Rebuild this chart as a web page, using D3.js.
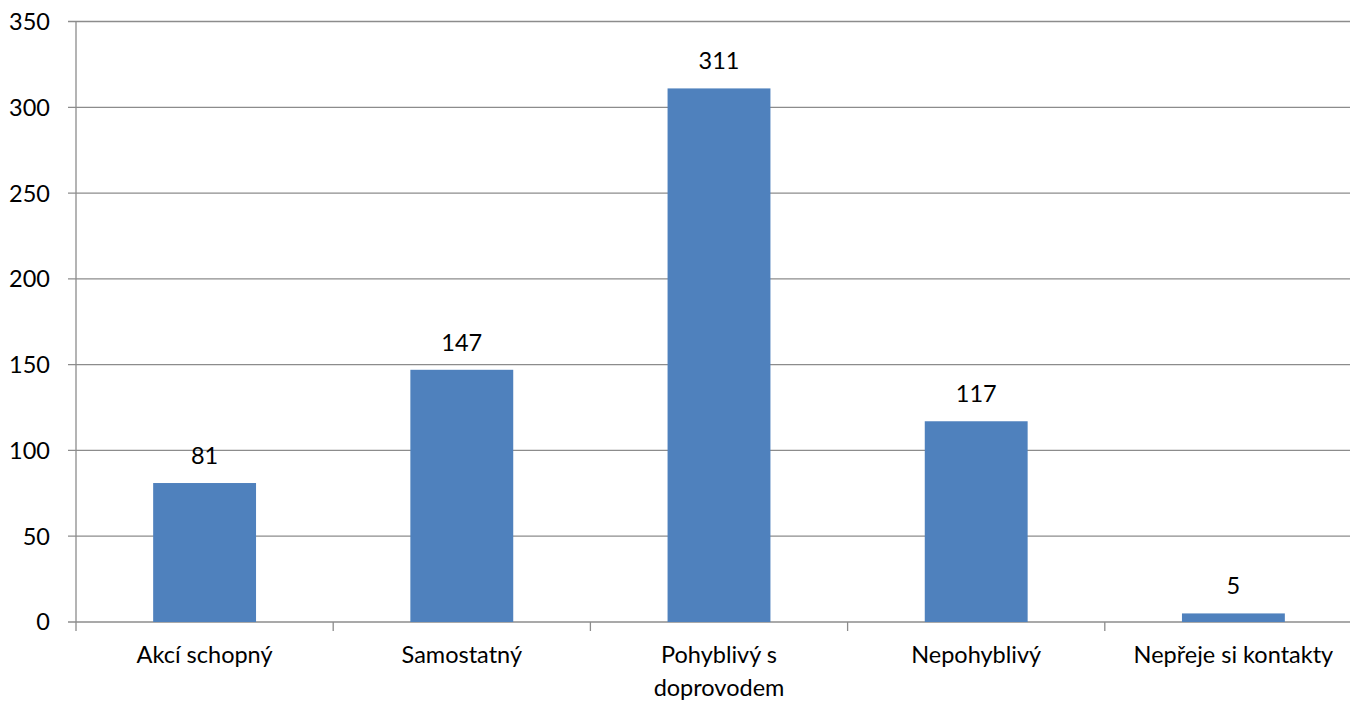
<!DOCTYPE html>
<html>
<head>
<meta charset="utf-8">
<script src="https://cdn.jsdelivr.net/npm/d3@7.9.0/dist/d3.min.js"></script>
<style>
  body { margin: 0; background: #fff; }
  svg { display: block; font-family: Lato, "Open Sans", sans-serif; }
</style>
</head>
<body>
<svg id="chart" width="1350" height="703"></svg>
<script>
// data
const categories = ["Akcí schopný", "Samostatný", "Pohyblivý s doprovodem", "Nepohyblivý", "Nepřeje si kontakty"];
const values = [81, 147, 311, 117, 5];
const yTicks = [0, 50, 100, 150, 200, 250, 300, 350];

const svg = d3.select("#chart");
const plotLeft = 76, plotRight = 1362, plotTop = 21.5, plotBottom = 622;
const fontSize = 23.5;

const x = d3.scaleBand()
  .domain(categories)
  .range([plotLeft, plotRight])
  .paddingInner(0.6)
  .paddingOuter(0.3);

const y = d3.scaleLinear().domain([0, 350]).range([plotBottom, plotTop]);

// gridlines
svg.append("g")
  .selectAll("line")
  .data(yTicks)
  .join("line")
  .attr("x1", plotLeft - 8)
  .attr("x2", plotRight)
  .attr("y1", d => y(d))
  .attr("y2", d => y(d))
  .attr("stroke", "#8c8c8c")
  .attr("stroke-width", 1.3);

// y labels
svg.append("g")
  .selectAll("text")
  .data(yTicks)
  .join("text")
  .attr("x", 50)
  .attr("y", d => y(d))
  .attr("dy", "0.36em")
  .attr("text-anchor", "end")
  .attr("font-size", fontSize)
  .attr("fill", "#000")
  .text(d => d);

// y axis line
svg.append("line")
  .attr("x1", plotLeft).attr("x2", plotLeft)
  .attr("y1", plotTop).attr("y2", plotBottom)
  .attr("stroke", "#8c8c8c")
  .attr("stroke-width", 1.3);

// category ticks
const step = x.step();
const tickXs = d3.range(categories.length + 1).map(i => plotLeft + i * step);
svg.append("g")
  .selectAll("line")
  .data(tickXs)
  .join("line")
  .attr("x1", d => d).attr("x2", d => d)
  .attr("y1", plotBottom).attr("y2", plotBottom + 9)
  .attr("stroke", "#8c8c8c")
  .attr("stroke-width", 1.3);

// bars
svg.append("g")
  .selectAll("rect")
  .data(values)
  .join("rect")
  .attr("x", (d, i) => x(categories[i]))
  .attr("width", x.bandwidth())
  .attr("y", d => y(d))
  .attr("height", d => y(0) - y(d))
  .attr("fill", "#4f81bd");

// value labels
svg.append("g")
  .selectAll("text")
  .data(values)
  .join("text")
  .attr("x", (d, i) => x(categories[i]) + x.bandwidth() / 2)
  .attr("y", d => y(d) - 19)
  .attr("text-anchor", "middle")
  .attr("font-size", fontSize)
  .text(d => d);

// category labels (wrap the long one)
const catLines = categories.map(c => c === "Pohyblivý s doprovodem" ? ["Pohyblivý s", "doprovodem"] : [c]);
svg.append("g")
  .selectAll("text")
  .data(categories)
  .join("text")
  .attr("x", d => x(d) + x.bandwidth() / 2)
  .attr("y", 663)
  .attr("text-anchor", "middle")
  .attr("font-size", fontSize)
  .each(function (d, i) {
    d3.select(this).selectAll("tspan")
      .data(catLines[i])
      .join("tspan")
      .attr("x", x(d) + x.bandwidth() / 2)
      .attr("dy", (t, j) => j === 0 ? 0 : 33)
      .text(t => t);
  });
</script>
</body>
</html>
